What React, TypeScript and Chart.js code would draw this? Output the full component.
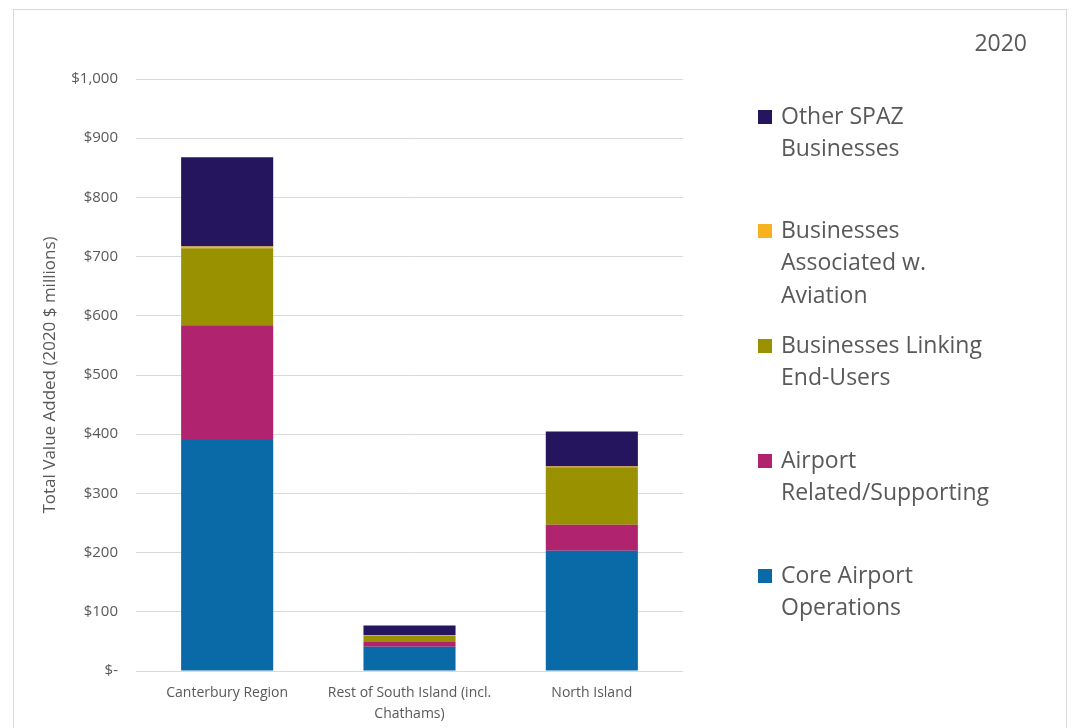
import React, { useEffect, useRef } from "react";
import { Chart, registerables } from "chart.js";

Chart.register(...registerables);

const categories: (string | string[])[] = [
  "Canterbury Region",
  ["Rest of South Island (incl.", "Chathams)"],
  "North Island",
];

const coreAirport = [390, 41, 203];
const airportRelated = [194, 8, 44];
const linkingEndUsers = [130, 11, 97];
const associatedAviation = [3, 1, 1.5];
const otherSpaz = [151, 16, 59];

const yTicks = [0, 100, 200, 300, 400, 500, 600, 700, 800, 900, 1000];

const seriesNames = [
  "Core Airport Operations",
  "Airport Related/Supporting",
  "Businesses Linking End-Users",
  "Businesses Associated w. Aviation",
  "Other SPAZ Businesses",
];
const seriesColors = ["#0A69A7", "#B0246F", "#9A9100", "#F6B31F", "#25145E"];

const legendLines: string[][] = [
  ["Other SPAZ", "Businesses"],
  ["Businesses", "Associated w.", "Aviation"],
  ["Businesses Linking", "End-Users"],
  ["Airport", "Related/Supporting"],
  ["Core Airport", "Operations"],
];
const legendColors = ["#25145E", "#F6B31F", "#9A9100", "#B0246F", "#0A69A7"];

const chartTitle = "2020";
const yTitle = "Total Value Added (2020 $ millions)";

const FONT = "'Open Sans', Lato, sans-serif";
const TEXT = "#595959";

const decorPlugin = {
  id: "decor",
  afterDraw(chart: any) {
    const ctx = chart.ctx as CanvasRenderingContext2D;
    ctx.save();
    // outer border
    ctx.strokeStyle = "#d9d9d9";
    ctx.lineWidth = 1;
    ctx.strokeRect(13.5, 9.5, 1053, 730);
    // title
    ctx.fillStyle = TEXT;
    ctx.font = `23px ${FONT}`;
    ctx.textAlign = "right";
    ctx.textBaseline = "middle";
    ctx.fillText(chartTitle, 1027, 44);
    // legend
    ctx.textAlign = "left";
    const tops = [117, 231, 346, 461, 576];
    legendLines.forEach((lines, i) => {
      ctx.fillStyle = legendColors[i];
      ctx.fillRect(758, tops[i] - 7, 14, 14);
      ctx.fillStyle = TEXT;
      lines.forEach((ln, j) => {
        ctx.fillText(ln, 781, tops[i] + j * 32.5);
      });
    });
    ctx.restore();
  },
};

export default function App() {
  const ref = useRef<HTMLCanvasElement | null>(null);
  useEffect(() => {
    if (!ref.current) return;
    const data = [coreAirport, airportRelated, linkingEndUsers, associatedAviation, otherSpaz];
    const chart = new Chart(ref.current, {
      type: "bar",
      data: {
        labels: categories,
        datasets: data.map((d, i) => ({
          label: seriesNames[i],
          data: d,
          backgroundColor: seriesColors[i],
          borderWidth: 0,
          barPercentage: 0.505,
          categoryPercentage: 1,
        })),
      },
      options: {
        responsive: false,
        animation: false,
        devicePixelRatio: 1,
        layout: { padding: { left: 0, top: 79, right: 389, bottom: 0 } },
        plugins: {
          legend: { display: false },
          title: { display: false },
          tooltip: { enabled: false },
        },
        scales: {
          x: {
            stacked: true,
            grid: { display: false, drawTicks: false },
            border: { display: false },
            ticks: {
              color: TEXT,
              font: { family: FONT, size: 14, lineHeight: 1.5 },
              padding: 12,
              maxRotation: 0,
              autoSkip: false,
            },
            afterFit(scale: any) {
              scale.height = 57;
            },
          },
          y: {
            stacked: true,
            min: 0,
            max: 1000,
            afterBuildTicks(scale: any) {
              scale.ticks = yTicks.map((v) => ({ value: v }));
            },
            grid: { color: "#d9d9d9", drawTicks: false, lineWidth: 1 },
            border: { display: false },
            ticks: {
              color: TEXT,
              font: { family: FONT, size: 15 },
              padding: 18,
              callback: (v: any) =>
                Number(v) === 0 ? "$-" : "$" + Number(v).toLocaleString("en-US"),
            },
            title: {
              display: true,
              text: yTitle,
              color: TEXT,
              font: { family: FONT, size: 17 },
              padding: { top: 40, bottom: 0 },
            },
            afterFit(scale: any) {
              scale.width = 136;
            },
          },
        },
      },
      plugins: [decorPlugin],
    });
    return () => chart.destroy();
  }, []);
  return (
    <div style={{ position: "absolute", left: 0, top: 0, width: 1072, height: 728, background: "#fff" }}>
      <canvas ref={ref} width={1072} height={728} style={{ display: "block" }} />
    </div>
  );
}
